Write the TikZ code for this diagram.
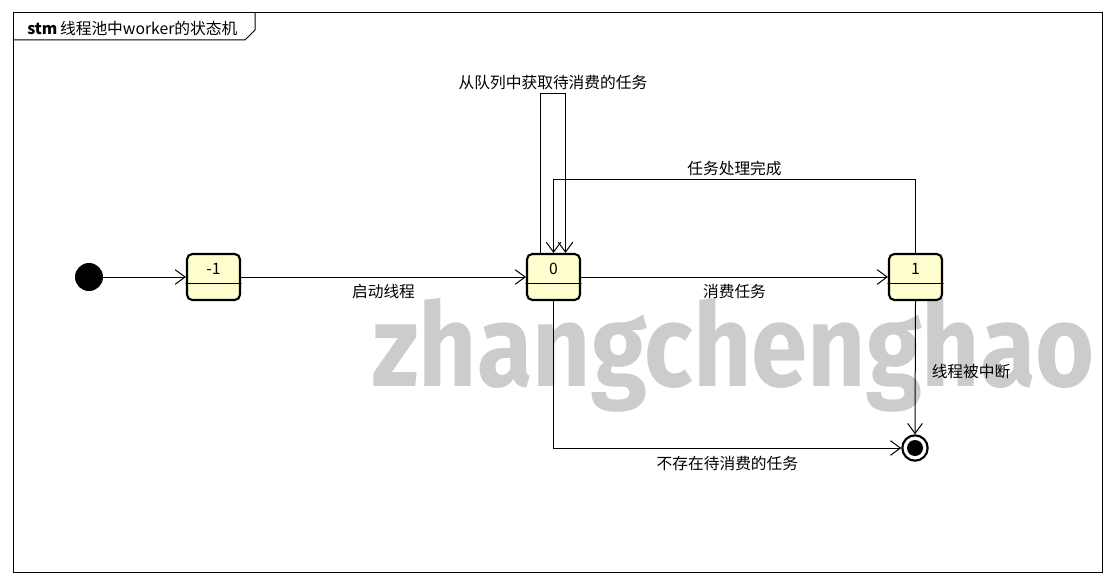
\documentclass[tikz,border=0pt]{standalone}
\usepackage{fontspec}
\usepackage{graphicx}
\newfontfamily\cjk{Noto Sans CJK SC}
\newfontfamily\wmfont{Fira Sans}
\usetikzlibrary{arrows.meta}

\begin{document}
\begin{tikzpicture}
			[x=0.75pt,y=-0.75pt,line cap=round,
			font=\cjk\fontsize{11.8}{13}\selectfont,
			%Styles
			transition/.style={line width=0.75pt,-{Straight Barb[length=7.5pt,width=11pt,line width=0.75pt]}},
			state/.style={draw,line width=1.6pt,rounded corners=4pt,fill=statefill,minimum width=39.75pt,minimum height=34.5pt,text height=8pt,text depth=11.5pt,inner sep=0pt},
			label text/.style={inner sep=2pt}
			]
			
			%Colors
			\definecolor{statefill}{HTML}{FEFECE}	%state boxes
			\colorlet{watermark}{black!20}
			
			\useasboundingbox (0,0) rectangle (1116,585);
			
			%Watermark
			\node[anchor=base west,inner sep=0pt,text=watermark] (wm) at (372,386) {\resizebox{542pt}{66pt}{\wmfont\bfseries zhangchenghao}};
			
			%Frame
			\draw[line width=0.75pt] (13,13) rectangle (1102,572);
			\draw[line width=0.75pt] (13,40) -- (245,40) -- (255,30) -- (255,13);
			\node[anchor=west,inner sep=0pt] (title) at (27,28) {\textbf{stm}\,线程池中worker的状态机};
			
			%The graphic
			\node[circle,fill=black,minimum size=21pt,inner sep=0pt] (init) at (89,277) {};
			\node[state] (sm1) at (213.5,277) {-1};
			\node[state] (s0) at (553.5,277) {0};
			\node[state] (s1) at (915.5,277) {1};
			\node[circle,draw,line width=1.6pt,fill=white,minimum size=19pt,inner sep=0pt] (final) at (915,448) {};
			\fill (final.center) circle[radius=6pt];
			
			\draw[line width=0.75pt] ([yshift=-4.5pt]sm1.west) -- ([yshift=-4.5pt]sm1.east);
			\draw[line width=0.75pt] ([yshift=-4.5pt]s0.west) -- ([yshift=-4.5pt]s0.east);
			\draw[line width=0.75pt] ([yshift=-4.5pt]s1.west) -- ([yshift=-4.5pt]s1.east);
			
			\draw[transition] (init) -- (sm1);
			\draw[transition] (sm1) -- node[below,label text,yshift=-3pt] {启动线程} (s0);
			\draw[transition] (s0) -- node[below,label text,yshift=-3pt] {消费任务} (s1);
			\draw[transition] ([xshift=-9.75pt]s0.north) -- ++(0,-159) -| node[pos=0.25,above,label text,yshift=1pt] {从队列中获取待消费的任务} ([xshift=9pt]s0.north);
			\draw[transition] (s1.north) -- ++(0,-73) -| node[pos=0.25,above,label text,yshift=1pt] {任务处理完成} (s0.north);
			\draw[transition] (s0.south) |- node[pos=0.75,below,label text,yshift=-4pt] {不存在待消费的任务} (final.west);
			\draw[transition] (s1.south) -- node[right,label text,xshift=10pt,yshift=-3pt] {线程被中断} (final.north);
		\end{tikzpicture}
\end{document}
